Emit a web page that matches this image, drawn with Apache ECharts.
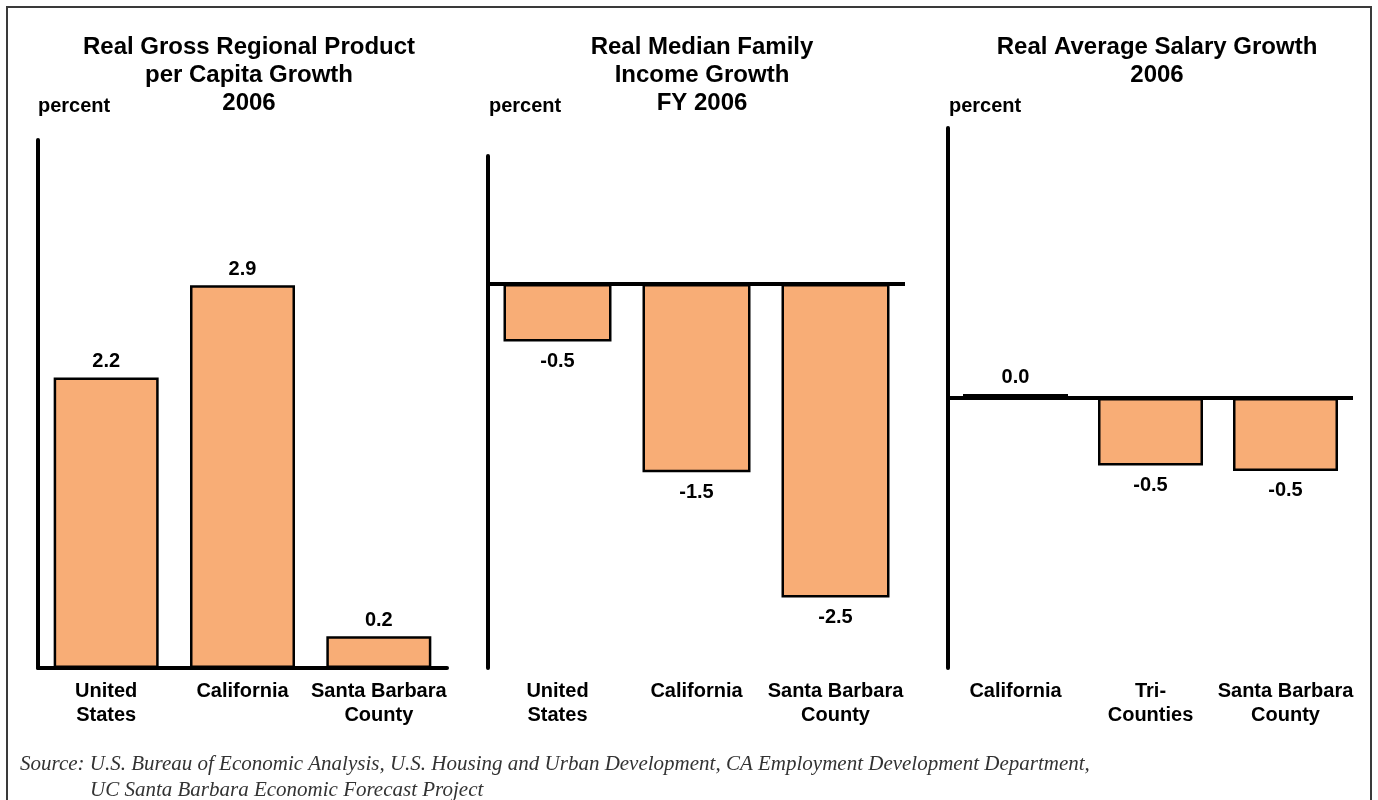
<!DOCTYPE html>
<html>
<head>
<meta charset="utf-8">
<script src="https://cdn.jsdelivr.net/npm/echarts@6/dist/echarts.min.js"></script>
<style>
html,body{margin:0;padding:0;background:#fff;}
#main{width:1378px;height:800px;}
</style>
</head>
<body>
<div id="main"></div>
<script>
const titles = [
  'Real Gross Regional Product\nper Capita Growth\n2006',
  'Real Median Family\nIncome Growth\nFY 2006',
  'Real Average Salary Growth\n2006'
];
const unitLabel = 'percent';
const categories1 = ['United\nStates', 'California', 'Santa Barbara\nCounty'];
const values1 = [2.2, 2.9, 0.24];
const categories2 = ['United\nStates', 'California', 'Santa Barbara\nCounty'];
const values2 = [-0.45, -1.47, -2.45];
const categories3 = ['California', 'Tri-\nCounties', 'Santa Barbara\nCounty'];
const values3 = [0.03, -0.50, -0.54];
const sourceLines = [
  'Source: U.S. Bureau of Economic Analysis, U.S. Housing and Urban Development, CA Employment Development Department,',
  'UC Santa Barbara Economic Forecast Project'
];

const FONT = '"Liberation Sans", Arial, sans-serif';
const SERIF = '"Liberation Serif", "Times New Roman", serif';
const BAR_COLOR = '#F8AD76';

const panels = [
  {cats: categories1, vals: values1, grid: {left: 38, top: 140, width: 409, height: 528}, min: 0, max: 4, bw: 105, zeroLine: false, titleX: 244, pctX: 38},
  {cats: categories2, vals: values2, grid: {left: 488, top: 156, width: 417, height: 512}, min: -3, max: 1, bw: 108, zeroLine: true, titleX: 697, pctX: 489},
  {cats: categories3, vals: values3, grid: {left: 948, top: 128, width: 405, height: 540}, min: -2, max: 2, bw: 105, zeroLine: true, titleX: 1152, pctX: 949}
];

const option = {
  animation: false,
  backgroundColor: '#fff',
  title: [],
  grid: [],
  xAxis: [],
  yAxis: [],
  series: [],
  graphic: []
};

panels.forEach((p, i) => {
  option.title.push({
    text: titles[i],
    left: p.titleX, top: 28, textAlign: 'center',
    textStyle: {fontFamily: FONT, fontWeight: 'bold', fontSize: 24, lineHeight: 28, color: '#000'}
  });
  option.graphic.push({
    type: 'text', left: p.pctX, top: 96,
    style: {text: unitLabel, font: 'bold 20px ' + FONT, fill: '#000'}
  });
  option.grid.push(Object.assign({containLabel: false}, p.grid));
  option.xAxis.push({
    type: 'category', gridIndex: i, data: p.cats,
    axisLine: {show: !p.zeroLine, onZero: false, lineStyle: {color: '#000', width: 4}},
    axisTick: {show: false},
    axisLabel: {interval: 0, margin: 11, fontFamily: FONT, fontWeight: 'bold', fontSize: 20, lineHeight: 24, color: '#000'}
  });
  option.yAxis.push({
    type: 'value', gridIndex: i, min: p.min, max: p.max,
    axisLine: {show: true, lineStyle: {color: '#000', width: 4}},
    axisTick: {show: false}, axisLabel: {show: false}, splitLine: {show: false}
  });
  const s = {
    type: 'bar', xAxisIndex: i, yAxisIndex: i, barWidth: p.bw,
    itemStyle: {color: BAR_COLOR, borderColor: '#000', borderWidth: 2.5},
    data: p.vals.map(v => ({
      value: v,
      label: {
        show: true, position: v >= 0 ? 'top' : 'bottom', distance: v >= 0 ? 6 : 10,
        formatter: (q) => q.value.toFixed(1),
        fontFamily: FONT, fontWeight: 'bold', fontSize: 20, color: '#000'
      }
    }))
  };
  if (p.zeroLine) {
    s.markLine = {
      silent: true, symbol: 'none', z: 10,
      label: {show: false},
      lineStyle: {color: '#000', width: 4, type: 'solid'},
      data: [{yAxis: 0}]
    };
  }
  option.series.push(s);
});

option.graphic.push({
  type: 'rect', shape: {x: 7, y: 7, width: 1364, height: 800},
  style: {fill: 'none', stroke: '#3a3a3a', lineWidth: 2}, silent: true
});
option.graphic.push({
  type: 'text', left: 20, top: 754,
  style: {text: sourceLines[0], font: 'italic 21px ' + SERIF, fill: '#333'}
});
option.graphic.push({
  type: 'text', left: 90, top: 780,
  style: {text: sourceLines[1], font: 'italic 21px ' + SERIF, fill: '#333'}
});

const chart = echarts.init(document.getElementById('main'), null, {renderer: 'canvas'});
chart.setOption(option);
</script>
</body>
</html>
